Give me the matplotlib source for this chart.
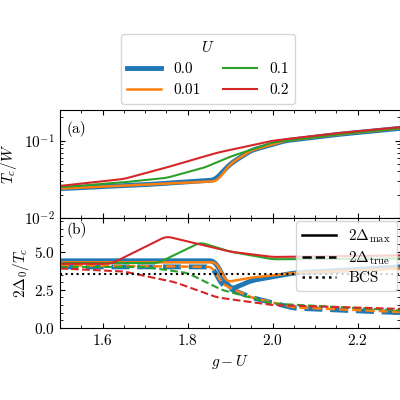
import matplotlib
matplotlib.use("Agg")
import matplotlib.pyplot as plt
from matplotlib.lines import Line2D
import numpy as np

plt.rcParams["font.family"] = "serif"
plt.rcParams["font.serif"] = ["cmr10", "DejaVu Serif"]
plt.rcParams["mathtext.fontset"] = "cm"
plt.rcParams["axes.formatter.use_mathtext"] = True
plt.rcParams["font.size"] = 11

U_labels = ["0.0", "0.01", "0.1", "0.2"]
colors = ["#1f77b4", "#ff7f0e", "#2ca02c", "#d62728"]
widths = [3.5, 1.8, 1.5, 1.5]

# Tc/W
tc_x = [
    [1.5, 1.7, 1.865, 1.9, 1.95, 2.03, 2.15, 2.3],
    [1.5, 1.7, 1.87, 1.9, 1.95, 2.03, 2.15, 2.3],
    [1.5, 1.65, 1.75, 1.84, 1.9, 2.0, 2.15, 2.3],
    [1.5, 1.65, 1.75, 1.87, 2.0, 2.15, 2.3],
]
tc_y = [
    [0.024, 0.027, 0.031, 0.05, 0.075, 0.1, 0.12, 0.145],
    [0.024, 0.027, 0.030, 0.05, 0.075, 0.1, 0.12, 0.145],
    [0.025, 0.029, 0.033, 0.045, 0.062, 0.095, 0.12, 0.145],
    [0.026, 0.032, 0.045, 0.07, 0.1, 0.125, 0.15],
]

# 2Delta_max / Tc
dmax_x = [
    [1.5, 1.865, 1.9, 1.95, 2.05, 2.3],
    [1.5, 1.87, 1.89, 1.95, 2.05, 2.3],
    [1.5, 1.73, 1.83, 1.9, 2.0, 2.3],
    [1.5, 1.62, 1.75, 1.9, 2.0, 2.3],
]
dmax_y = [
    [4.4, 4.4, 2.5, 3.1, 3.6, 4.0],
    [4.3, 4.3, 3.0, 3.3, 3.6, 3.9],
    [4.25, 4.25, 5.6, 5.0, 4.5, 4.55],
    [4.2, 4.2, 6.0, 5.0, 4.65, 4.75],
]

# 2Delta_true / Tc
dtrue_x = [
    [1.5, 1.86, 1.88, 1.95, 2.05, 2.3],
    [1.5, 1.86, 1.88, 1.95, 2.05, 2.3],
    [1.5, 1.7, 1.8, 1.88, 2.0, 2.3],
    [1.5, 1.65, 1.77, 1.87, 2.0, 2.3],
]
dtrue_y = [
    [4.0, 4.0, 2.8, 2.0, 1.3, 1.0],
    [4.1, 4.0, 2.9, 2.0, 1.35, 1.05],
    [4.0, 4.0, 3.6, 2.5, 1.6, 1.15],
    [3.9, 3.7, 3.0, 2.0, 1.5, 1.25],
]
bcs = 3.53


def smooth(xs, ys, log=False):
    xx = np.linspace(xs[0], xs[-1], 300)
    y = np.log(ys) if log else np.array(ys, float)
    yy = np.interp(xx, xs, y)
    k = np.ones(9) / 9
    yy = np.convolve(np.pad(yy, 4, mode="edge"), k, mode="valid")
    return xx, (np.exp(yy) if log else yy)


fig = plt.figure(figsize=(4, 4), dpi=100)
ax1 = fig.add_axes([0.15, 0.455, 0.85, 0.27])
ax2 = fig.add_axes([0.15, 0.18, 0.85, 0.275], sharex=ax1)

handles = []
for i in range(4):
    h, = ax1.plot(*smooth(tc_x[i], tc_y[i], log=True), color=colors[i], lw=widths[i], label=U_labels[i])
    handles.append(h)
    ax2.plot(*smooth(dmax_x[i], dmax_y[i]), color=colors[i], lw=widths[i])
    ax2.plot(*smooth(dtrue_x[i], dtrue_y[i]), color=colors[i], lw=widths[i], ls="--")
ax2.axhline(bcs, color="k", ls=":", lw=1.5)

ax1.set_yscale("log")
ax1.set_ylim(1e-2, 0.25)
ax1.set_xlim(1.5, 2.3)
ax2.set_ylim(0, 7.2)
ax2.set_yticks([0, 2.5, 5.0])
ax2.set_xticks([1.6, 1.8, 2.0, 2.2])
ax1.set_ylabel(r"$T_c/W$")
ax2.set_ylabel(r"$2\Delta_0/T_c$", labelpad=2)
ax2.set_xlabel(r"$g-U$")
ax1.text(0.02, 0.9, "(a)", transform=ax1.transAxes, va="top")
ax2.text(0.02, 0.96, "(b)", transform=ax2.transAxes, va="top")
plt.setp(ax1.get_xticklabels(), visible=False)
for ax in (ax1, ax2):
    ax.minorticks_on()
    ax.tick_params(which="both", direction="in", top=True, right=True)

sty = [Line2D([], [], color="k", lw=1.8, ls=s) for s in ["-", "--", ":"]]
ax2.legend(sty, [r"$2\Delta_{\rm max}$", r"$2\Delta_{\rm true}$", "BCS"],
           loc="upper right", handlelength=2.2, fontsize=11,
           borderaxespad=0.2, labelspacing=0.3)
fig.legend(handles, U_labels, title=r"$U$", ncol=2, loc="upper center",
           bbox_to_anchor=(0.52, 0.935), fontsize=11, title_fontsize=11,
           handlelength=2.2, columnspacing=1.5)

fig.savefig("out.png", dpi=100)
